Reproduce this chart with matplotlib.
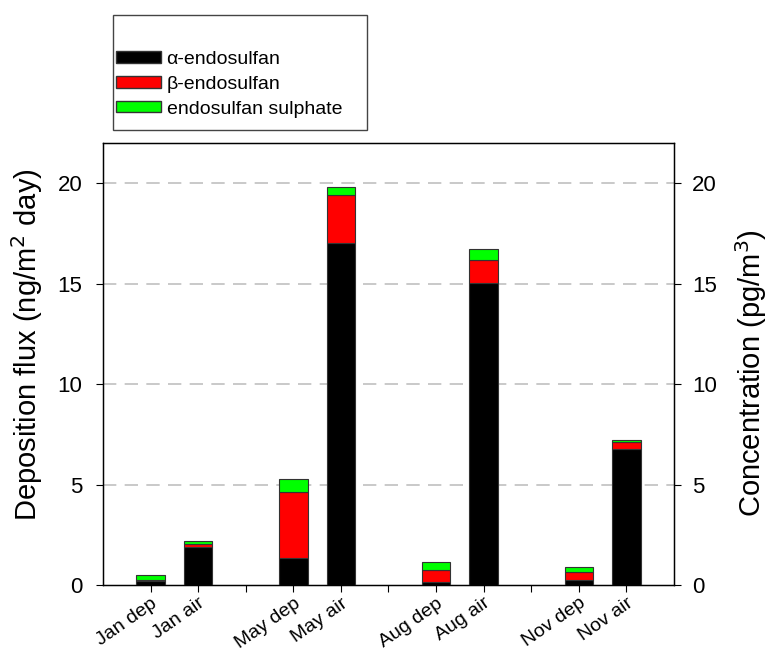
import numpy as np
import matplotlib.pyplot as plt
from matplotlib.patches import Patch, Rectangle

plt.rcParams['font.family'] = ['Liberation Sans', 'DejaVu Sans']

# Données
labels = ['Jan dep', 'Jan air', '', 'May dep', 'May air', '',
          'Aug dep', 'Aug air', '', 'Nov dep', 'Nov air']
alpha_endo = [0.20, 1.88, 0, 1.36, 17.0, 0, 0.15, 15.03, 0, 0.25, 6.77]
beta_endo = [0.06, 0.16, 0, 3.29, 2.40, 0, 0.60, 1.17, 0, 0.40, 0.33]
sulphate = [0.25, 0.14, 0, 0.64, 0.40, 0, 0.38, 0.50, 0, 0.23, 0.12]

a = np.array(alpha_endo)
b = np.array(beta_endo)
s = np.array(sulphate)
x = np.arange(len(labels))
has_bar = np.array([lab != '' for lab in labels])

W, H = 771, 653
fig = plt.figure(figsize=(W / 100, H / 100), dpi=100)
ax = fig.add_axes([103 / W, 1 - 585 / H, (674 - 103) / W, (585 - 143) / H])

w = 0.6
kw = dict(width=w, edgecolor='#333333', linewidth=0.8, zorder=3)
ax.bar(x[has_bar], a[has_bar], color='black', **kw)
ax.bar(x[has_bar], b[has_bar], bottom=a[has_bar], color='#ff0000', **kw)
ax.bar(x[has_bar], s[has_bar], bottom=(a + b)[has_bar], color='#00ff00', **kw)

ax.set_xlim(-1, 11)
ax.set_ylim(0, 22)
ax.set_yticks([0, 5, 10, 15, 20])
for yv in [5, 10, 15, 20]:
    ax.axhline(yv, color='#c0c0c0', linestyle=(0, (8, 5)), linewidth=1.2, zorder=1)

ax.set_xticks(x)
ax.set_xticklabels(labels, rotation=35, ha='right', rotation_mode='anchor', fontsize=14)
ax.tick_params(axis='x', direction='out', length=5, pad=2)
ax.tick_params(axis='y', direction='out', length=5, labelsize=16, pad=10)
ax.set_ylabel('Deposition flux (ng/m$^2$ day)', fontsize=21)
ax.yaxis.set_label_coords(-0.102, 0.543)
for sp in ax.spines.values():
    sp.set_linewidth(1.0)
    sp.set_color('black')

ax2 = ax.twinx()
ax2.set_ylim(0, 22)
ax2.set_yticks([0, 5, 10, 15, 20])
ax2.tick_params(axis='y', direction='out', length=5, labelsize=16, pad=8)
ax2.set_ylabel('Concentration (pg/m$^3$)', fontsize=21)
ax2.yaxis.set_label_coords(1.103, 0.48)

# Légende dans un cadre au-dessus du graphique
fig.add_artist(Rectangle((113 / W, 1 - 130 / H), (367 - 113) / W, (130 - 15) / H,
                         transform=fig.transFigure, facecolor='white',
                         edgecolor='#444444', linewidth=1.0))
handles = [Patch(facecolor='black', edgecolor='#333333', label='α-endosulfan'),
           Patch(facecolor='#ff0000', edgecolor='#333333', label='β-endosulfan'),
           Patch(facecolor='#00ff00', edgecolor='#333333', label='endosulfan sulphate')]
fig.legend(handles=handles, loc='upper left', bbox_to_anchor=(116 / W, 1 - 51 / H),
           fontsize=14, frameon=False, handlelength=2.3, handleheight=0.52,
           borderpad=0, labelspacing=0.4, handletextpad=0.3, borderaxespad=0)

fig.savefig('out.png', dpi=100)
